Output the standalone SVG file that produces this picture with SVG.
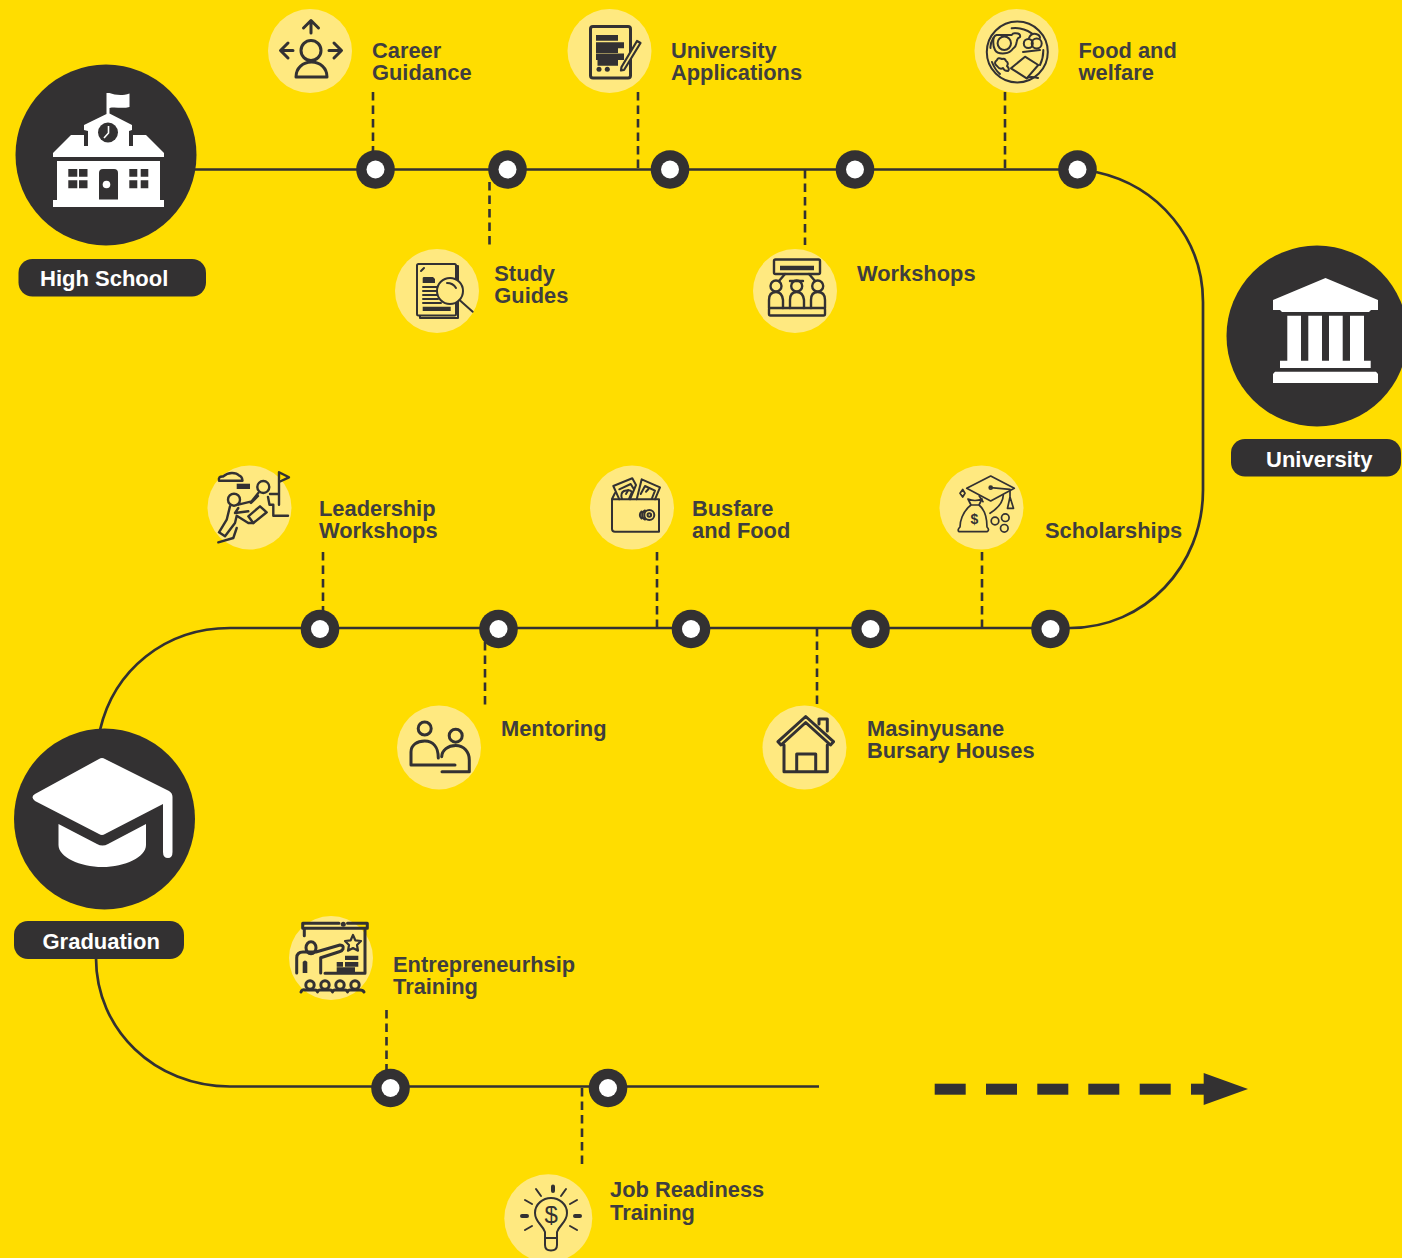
<svg xmlns="http://www.w3.org/2000/svg" width="1402" height="1258" viewBox="0 0 1402 1258">
<style>
.t{font:bold 21.85px "Liberation Sans",Arial,sans-serif;fill:#3f3e3f}
.p{font:bold 22px "Liberation Sans",Arial,sans-serif;fill:#fff}
.d{fill:#333132}.w{fill:#fff}.l{fill:#ffe980}
.rail{fill:none;stroke:#333132;stroke-width:2.700}
.dash{fill:none;stroke:#333132;stroke-width:2.600;stroke-dasharray:8.500 5}
.ic{fill:none;stroke:#333132;stroke-width:2;stroke-linecap:round;stroke-linejoin:round}
.i3{fill:none;stroke:#333132;stroke-width:3;stroke-linecap:round;stroke-linejoin:round}
.f{fill:#333132;stroke:none}
</style>
<defs>
<g id="dot"><circle r="19.300" class="d"/><circle r="9" class="w"/></g>
</defs>
<rect width="1402" height="1258" fill="#ffdd00"/>
<g id="connectors">
<path class="rail" d="M190,169.500H1077M1096,172C1160,186 1203,240 1203,302V490C1203,566 1145,628 1070,628H230C165,628 114,670 100,730M96,958C96,1030 155,1086.500 230,1086.500H819"/>
<path class="dash" d="M373,92V152M489.500,182V245M638,92V169M805,170V245M1005,92V169M323,552V612M485,642V706M657,552V628M817,628V706M982,552V628M386.500,1010V1070M582,1088V1165"/>
<g id="arrow" class="d"><rect x="934.700" y="1083.700" width="31" height="11"/><rect x="986" y="1083.700" width="31" height="11"/><rect x="1037.300" y="1083.700" width="31" height="11"/><rect x="1088.300" y="1083.700" width="31" height="11"/><rect x="1139.700" y="1083.700" width="31" height="11"/><rect x="1191" y="1083.700" width="14" height="11"/><path d="M1203.700,1073L1248,1089L1203.700,1105Z"/></g>
</g>
<g id="stops">
<use href="#dot" x="375.500" y="169.500"/><use href="#dot" x="507.500" y="169.500"/><use href="#dot" x="670" y="169.500"/><use href="#dot" x="855" y="169.500"/><use href="#dot" x="1077.500" y="169.500"/>
<use href="#dot" x="320" y="629"/><use href="#dot" x="498.500" y="629"/><use href="#dot" x="691" y="629"/><use href="#dot" x="870.500" y="629"/><use href="#dot" x="1050.500" y="629"/>
<use href="#dot" x="390.500" y="1088"/><use href="#dot" x="608" y="1088"/>
</g>
<g id="high-school">
<circle cx="106" cy="155" r="90.500" class="d"/>
<path class="w" d="M106.500,114V93H109.500C115,95 122,96 129.500,93.500V107C122,109 115,106.500 109.500,108V113.500L132,125V130L129,131V146H133V135H146L164,153V157H53V153L71,135H84V146H88V131L84,130V125Z"/>
<circle cx="108" cy="132.500" r="10" class="d"/><path d="M108.500,126V133L104,138" fill="none" stroke="#fff" stroke-width="1.600"/>
<path class="w" d="M57,161H160V200H164V207H53V200H57Z"/>
<path class="d" d="M68.300,169H77.300V176.700H68.300ZM79,169H87.500V176.700H79ZM68.300,180.300H77.300V188.300H68.300ZM79,180.300H87.500V188.300H79ZM129.300,169H137.300V176.700H129.300ZM140.700,169H148.300V176.700H140.700ZM129.300,180.300H137.300V188.300H129.300ZM140.700,180.300H148.300V188.300H140.700ZM99,173Q99,169 103,169H114Q118,169 118,173V199.500H99Z"/>
<circle cx="106.500" cy="184.500" r="3.800" class="w"/>
<rect x="18.500" y="259" width="187.500" height="37.500" rx="14" class="d"/>
<text class="p" x="40" y="286">High School</text>
</g>
<g id="university">
<circle cx="1317" cy="336" r="90.500" class="d"/>
<path class="w" d="M1325.500,278L1378,300V310H1371L1369,312H1282L1280,310H1273V300ZM1287.300,315.700H1301V360.700H1308.300V315.700H1322V360.700H1329V315.700H1342.700V360.700H1350V315.700H1364V360.700H1370.700V368H1280V360.700H1287.300ZM1275,371.700H1376L1378,374V383H1273V374Z"/>
<rect x="1231" y="439" width="170" height="37.500" rx="14" class="d"/>
<text class="p" x="1266" y="467">University</text>
</g>
<g id="graduation">
<circle cx="104.500" cy="819" r="90.500" class="d"/>
<path class="w" d="M99,759Q102,757 105,759L169,791Q172.500,793 172.500,797V852Q172.500,858 168,858Q163,858 163,852V804L105,834Q102,836 99,834L35,801Q30,797 35,794Z"/>
<path class="w" d="M58.500,824L97,844Q102.500,847 108,844L146,824V845C146,857 125,867 102.500,867C80,867 58.500,857 58.500,845Z"/>
<rect x="14" y="921" width="170" height="38" rx="14" class="d"/>
<text class="p" x="42.500" y="948.500">Graduation</text>
</g>
<g id="career-guidance">
<circle cx="310" cy="51" r="42" class="l"/>
<g class="i3"><circle cx="311" cy="50.500" r="10"/><path d="M296,77H327C327,68 320,62 311.500,62C303,62 296,68 296,77Z"/><path d="M311,33V21M303.500,28L311,20.500L318.500,28M293,50.500H281M288,43L280.500,50.500L288,58M329,50.500H341M334,43L341.500,50.500L334,58"/></g>
<text class="t"><tspan x="372" y="58">Career</tspan><tspan x="372" y="80">Guidance</tspan></text>
</g>
<g id="university-applications">
<circle cx="609.500" cy="51" r="42" class="l"/>
<rect x="590.500" y="26.500" width="40" height="51.500" rx="2.500" class="i3"/>
<path class="f" d="M596,35H618V40.700H596ZM596,42.300H624V48.300H596ZM596,48.300H618V53H596ZM596,53.500H624V60H596ZM597.500,60H618V65.700H597.500Z"/>
<circle cx="599" cy="69.300" r="2.500" class="f"/><circle cx="607.300" cy="69.300" r="2.500" class="f"/>
<path d="M637,41L640.500,43L624,70L621,70.500L621.500,67Z" fill="#ffe980" stroke="#333132" stroke-width="2.200" stroke-linejoin="round"/>
<text class="t"><tspan x="671" y="58">University</tspan><tspan x="671" y="80">Applications</tspan></text>
</g>
<g id="food-and-welfare">
<circle cx="1016.500" cy="51" r="42" class="l"/>
<g class="ic"><circle cx="1017.300" cy="52" r="30.500"/>
<path d="M1011.700,28.300Q1022,27 1031.700,33.300M1043.300,50Q1043.500,58 1040,65M1023,52L1040,50M1038,78Q1030,76 1026.700,78.300M1000,74Q995,70 992,62M990.500,48Q990,44 993.300,38"/>
<circle cx="1004.300" cy="43.300" r="6.700"/>
<path d="M993.300,41.700Q993,36 996.700,35H1011.700Q1013,33 1015,33.300Q1021,33 1020,37Q1017,38 1016.700,41.700Q1016,47 1013.300,48.300Q1010,53 1005,53.300Q997,54 995,50Q993,46 993.300,41.700Z"/>
<circle cx="1028.300" cy="43.500" r="4.500"/><circle cx="1036.700" cy="43.500" r="5"/><path d="M1029,38Q1031,33 1036,34Q1040,35 1040,38"/>
<path d="M1011,68.300L1025,56.700L1038.300,65L1026.700,78.300Z"/>
<path d="M997,66Q993,63 997,60Q998,57 1002,59Q1005,58 1006,61Q1009,63 1007,66Q1010,69 1008,71Q1004,71 1003,68Q1000,70 997,66Z"/></g>
<text class="t"><tspan x="1078.500" y="58">Food and</tspan><tspan x="1078.500" y="80">welfare</tspan></text>
</g>
<g id="study-guides">
<circle cx="437" cy="291" r="42" class="l"/>
<g class="ic"><path d="M456,266H458V318H420V316"/><rect x="417" y="264" width="39" height="51.500" rx="1.500"/><path d="M421,271L424,268M423,287H441M423,291H438M423,295H438M423,299H438M423,303H441"/></g>
<path class="f" d="M422.700,278Q422.700,277 424,277H433L435,279V283H422.700ZM422.700,306.700H450.700V311H422.700Z"/>
<circle cx="450" cy="291" r="13" fill="#ffe980" stroke="#333132" stroke-width="2"/><path class="ic" d="M459.500,300L472.700,311.700M447,283Q453,283 456,288"/>
<text class="t"><tspan x="494.300" y="280.700">Study</tspan><tspan x="494.300" y="302.700">Guides</tspan></text>
</g>
<g id="workshops">
<circle cx="795" cy="291" r="42" class="l"/>
<g class="i3" style="stroke-width:2.400"><rect x="774" y="259.500" width="46" height="14.500" rx="1.500"/><path d="M785,274L779,281M809,274L815,281M790,281H803"/>
<circle cx="776" cy="286" r="5.500"/><circle cx="796.700" cy="286" r="5.500"/><circle cx="817.700" cy="286" r="5.500"/>
<path d="M769,308V300Q769,292 776,292Q782,292 783,300V308M790,308V300Q790,292 796.700,292Q803,292 804,300V308M811,308V300Q811,292 817.700,292Q825,292 825,300V308"/><rect x="769" y="308" width="56" height="7.500" rx="1.500"/></g>
<path class="f" d="M780,265.700H814V270.300H780Z"/>
<text class="t" x="857" y="281">Workshops</text>
</g>
<g id="leadership-workshops">
<circle cx="249.500" cy="507.500" r="42" class="l"/>
<g class="i3" style="stroke-width:2.400"><path d="M219,480.700Q218,476 223,476.500Q227,473 232,473Q237,473 239,475.500Q242,476 242.500,480.700Z"/>
<path d="M279,504.700V472.300L289,477.300L279,482M270,494H279"/>
<circle cx="263.300" cy="487" r="6"/><circle cx="234" cy="499.700" r="6"/>
<path d="M268,497L269.500,504.700H273.300V515.700H288"/>
<path d="M248.300,516.300L260,506.300L266.700,512.300L253.300,523Z"/>
<path d="M238.300,504.700L251.700,501.300L258.300,493M251,503L258,496"/>
<path d="M230,506.300L226.700,519.700L219,532.300L225,536.300L235,523L236.700,515.700L248.300,523L253.300,523"/>
<path d="M238.300,508L235,513L248.300,511.300"/>
<path d="M218.300,542.300L233.300,538L236.700,528"/></g>
<path class="f" d="M236.700,483.700H250V489H236.700Z"/>
<text class="t"><tspan x="319" y="516">Leadership</tspan><tspan x="319" y="538">Workshops</tspan></text>
</g>
<g id="busfare-and-food">
<circle cx="632" cy="507.500" r="42" class="l"/>
<g class="ic"><path d="M615,493L612,499V529Q612,531.700 615,531.700H659V499.300H613"/>
<path d="M619.300,499.300L613.300,486L632.300,478.300L636,485L630,499.300M619.300,489.300L630.700,484L633.300,488.300"/>
<path d="M622,499Q620,493 624,491Q630,489 632,492L629,499"/>
<path d="M636.700,499.300L641.700,479.300L660,487.300L655,499.300M640.700,494L645,486L655,490.700L651.700,499M628.300,490L626,494M646,491.700L648.300,489.300"/>
<circle cx="649.300" cy="515" r="5"/><circle cx="649.300" cy="515" r="1.800"/><path d="M645,510.500A5,5 0 0 0 645,519.500M641.500,511.500A4.500,4.500 0 0 0 641.500,518.500"/></g>
<text class="t"><tspan x="692" y="516">Busfare</tspan><tspan x="692" y="538">and Food</tspan></text>
</g>
<g id="scholarships">
<circle cx="981.500" cy="507.500" r="42" class="l"/>
<g class="ic" style="stroke-width:1.700"><path d="M966.700,488.300L990.700,476L1014.300,488.300L990.700,501Z"/><path d="M990.700,487.700L1010,489.300V497M1010,497L1007.500,508.300H1013.500ZM1003.300,495Q1003,505 990,513.300M979.300,496L983,501.700"/><circle cx="990.700" cy="487.700" r="1.500"/>
<path d="M968,499Q975,502 982,499L979,505H971ZM971,505C962,512 960,522 960,527Q957,530 959,531.700H987Q990,530 987,527C987,520 985,510 979,505"/><circle cx="995" cy="521" r="3.800"/><circle cx="1005.300" cy="517.700" r="3.800"/><circle cx="1004.300" cy="528.300" r="3.800"/><path d="M962.700,489.500L965,493.300L962.700,497L960,493.300Z"/></g>
<text x="974.300" y="524" text-anchor="middle" style="font:bold 14px 'Liberation Sans',Arial,sans-serif;fill:#333132">$</text>
<text class="t" x="1045" y="538">Scholarships</text>
</g>
<g id="mentoring">
<circle cx="439" cy="747.500" r="42" class="l"/>
<g class="i3"><circle cx="424.700" cy="728.500" r="6.500"/><circle cx="455.700" cy="735.700" r="6.500"/><path d="M411,765V752C411,745 417,741 424.700,741C433,741 438.300,747 438.300,758M411,765H455M441.700,756.700C442,750 448,745.500 455.700,745.500C464,745.500 469.300,752 469.300,760V771.700H442"/></g>
<text class="t" x="501" y="736">Mentoring</text>
</g>
<g id="masinyusane">
<circle cx="804.500" cy="747.500" r="42" class="l"/>
<g class="i3"><path d="M778,741.700L805.700,716.500L833.500,741.700L830.500,745L805.700,722.500L781,745ZM784,745V771.700H827.300V745M796.700,771.700V754H815.700V771.700M819,724V719H827.300V731"/></g>
<text class="t"><tspan x="867" y="736">Masinyusane</tspan><tspan x="867" y="758">Bursary Houses</tspan></text>
</g>
<g id="entrepreneurship">
<circle cx="331" cy="958" r="42" class="l"/>
<g class="i3"><path d="M302.700,928V923.300H339M347.500,923.300H367.300V928.300H302.700M304.300,928.300V935.700M365,928.300V973.300H325"/>
<ellipse cx="311" cy="947.700" rx="5" ry="6"/>
<path d="M296.700,973V958Q296.700,952 303,952H316L340,945Q344,945 343,949Q342,951 340,951.500L320.700,957.700V973"/>
<path d="M353,935L355.300,940.300L361,941L357,945L358,950.700L353,948L348,950.700L349,945L345,941L350.700,940.300Z" stroke-width="2.200"/>
<circle cx="310" cy="985" r="4.200"/><circle cx="325" cy="985" r="4.200"/><circle cx="340" cy="985" r="4.200"/><circle cx="355" cy="985" r="4.200"/>
<path d="M301,992Q302,989 305,990H315Q317,990 317.500,992Q318,990 320,990H330Q332,990 332.500,992Q333,990 335,990H345Q347,990 347.500,992Q348,990 350,990H360Q363,990 364,992"/></g>
<path class="f" d="M302.700,962Q305,959 307.300,962V973H302.700ZM345,955.700H358.300V960H345ZM336.700,962H343V966.700H336.700ZM345,962H358.300V966.700H345ZM336.700,967.300H355V972H336.700Z"/>
<circle cx="343.300" cy="924.300" r="2.500" class="f"/>
<text class="t"><tspan x="393" y="972">Entrepreneurhsip</tspan><tspan x="393" y="994">Training</tspan></text>
</g>
<g id="job-readiness">
<circle cx="548.300" cy="1218.300" r="44" class="l"/>
<g class="ic"><path d="M545,1238V1232C542,1224 535,1222 535,1213C535,1204 543,1198 551,1198C559,1198 567,1204 567,1213C567,1222 560,1224 557,1232V1238ZM545,1238H557V1245Q557,1250.500 551,1250.500Q545,1250.500 545,1245Z"/>
<path d="M536,1189L541,1196M566,1189L561,1196M525,1200L532,1204M577,1200L570,1204M525,1230L532,1226M577,1230L570,1226"/></g>
<path class="i3" style="stroke-width:4" d="M553,1186.500V1191M522,1216H527M575,1216H580"/>
<text x="551.300" y="1222.500" text-anchor="middle" style="font:24px 'Liberation Sans',Arial,sans-serif;fill:#333132">$</text>
<text class="t"><tspan x="610" y="1197.300">Job Readiness</tspan><tspan x="610" y="1220">Training</tspan></text>
</g>
</svg>
